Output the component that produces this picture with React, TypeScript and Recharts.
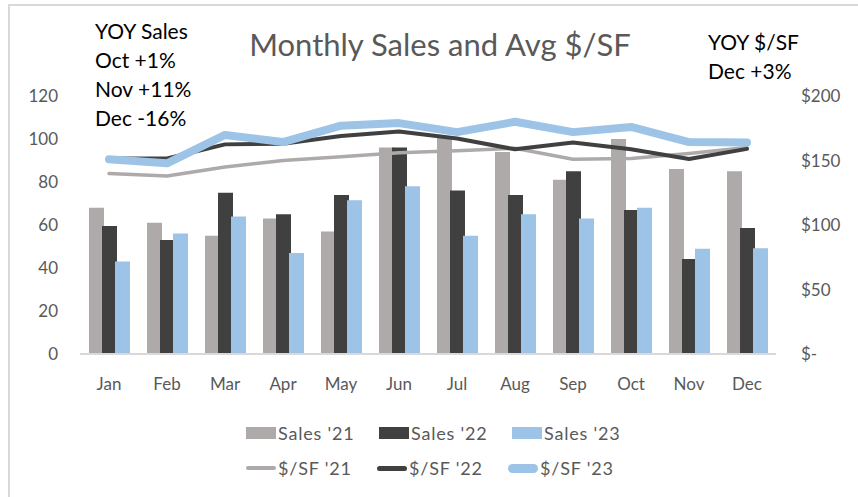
import React from "react";
import {
  ComposedChart,
  Bar,
  Line,
  XAxis,
  YAxis,
  Legend,
} from "recharts";

const months = ["Jan", "Feb", "Mar", "Apr", "May", "Jun", "Jul", "Aug", "Sep", "Oct", "Nov", "Dec"];
const sales21 = [68, 61, 55, 63, 57, 96, 101, 94, 81, 100, 86, 85];
const sales22 = [59.5, 53, 75, 65, 74, 96, 76, 74, 85, 67, 44.2, 58.6];
const sales23 = [43, 56, 64, 47, 71.5, 78, 55, 65, 63, 68, 49, 49.2];
const sf21 = [140, 138, 145, 150, 153, 156, 157.6, 159.5, 151, 151.5, 155.5, 160];
const sf22 = [151.5, 151.5, 162.5, 163, 169, 172.4, 167, 158.7, 164, 158.7, 151.2, 159];
const sf23 = [151, 147.8, 169.8, 164.3, 177, 179, 172, 180, 172, 176, 164.3, 164];
const salesTicks = [0, 20, 40, 60, 80, 100, 120];
const sfTicks = [0, 50, 100, 150, 200];
const yoySales = ["YOY Sales", "Oct +1%", "Nov +11%", "Dec -16%"];
const yoySf = ["YOY $/SF", "Dec +3%"];

const GRAY = "#AEAAAA";
const DARK = "#404040";
const BLUE = "#9DC3E6";
const TEXT = "#595959";
const FONT = "Lato, sans-serif";

const data = months.map((m, i) => ({
  month: m,
  s21: sales21[i],
  s22: sales22[i],
  s23: sales23[i],
  f21: sf21[i],
  f22: sf22[i],
  f23: sf23[i],
}));

const barItems = [
  { label: "Sales '21", color: GRAY },
  { label: "Sales '22", color: DARK },
  { label: "Sales '23", color: BLUE },
];
const lineItems = [
  { label: "$/SF '21", color: GRAY, w: 4 },
  { label: "$/SF '22", color: DARK, w: 5 },
  { label: "$/SF '23", color: BLUE, w: 9 },
];

function ChartLegend() {
  const text: React.CSSProperties = {
    color: TEXT,
    fontSize: 18,
    fontFamily: FONT,
    marginLeft: 2,
    letterSpacing: 0.8,
  };
  return (
    <div style={{ height: 100, position: "relative" }}>
      <div style={{ position: "absolute", top: 38, left: 246, display: "flex" }}>
        {barItems.map((it) => (
          <div key={it.label} style={{ width: 133, display: "flex", alignItems: "center" }}>
            <span style={{ width: 30, height: 12, background: it.color, display: "inline-block" }} />
            <span style={text}>{it.label}</span>
          </div>
        ))}
      </div>
      <div style={{ position: "absolute", top: 73, left: 246, display: "flex" }}>
        {lineItems.map((it) => (
          <div key={it.label} style={{ width: 131, display: "flex", alignItems: "center" }}>
            <span
              style={{
                width: 30,
                height: it.w,
                borderRadius: it.w,
                background: it.color,
                display: "inline-block",
              }}
            />
            <span style={text}>{it.label}</span>
          </div>
        ))}
      </div>
    </div>
  );
}

export default function App() {
  const tick = { fill: TEXT, fontSize: 17, fontFamily: FONT };
  return (
    <div
      style={{
        position: "absolute",
        left: 0,
        top: 0,
        width: 858,
        height: 497,
        overflow: "hidden",
        background: "#fff",
        fontFamily: FONT,
      }}
    >
      <div
        style={{
          position: "absolute",
          left: 8,
          top: 4,
          width: 1000,
          height: 1000,
          border: "2px solid #D9D9D9",
        }}
      />
      <div
        style={{
          position: "absolute",
          left: 0,
          width: 858,
          top: 25,
          textAlign: "center",
          paddingLeft: 22,
          boxSizing: "border-box",
          fontSize: 31,
          color: TEXT,
          lineHeight: "38px",
        }}
      >
        Monthly Sales and Avg $/SF
      </div>
      <div style={{ position: "absolute", left: 95, top: 16, fontSize: 21, lineHeight: "29px", color: "#000" }}>
        {yoySales.map((t) => (
          <div key={t}>{t}</div>
        ))}
      </div>
      <div style={{ position: "absolute", left: 708, top: 27, fontSize: 21, lineHeight: "29px", color: "#000" }}>
        {yoySf.map((t) => (
          <div key={t}>{t}</div>
        ))}
      </div>
      <ComposedChart
        width={858}
        height={497}
        data={data}
        margin={{ top: 96, right: 0, bottom: 13, left: 0 }}
        barGap={-2}
      >
        <XAxis
          dataKey="month"
          tick={tick}
          tickLine={false}
          tickSize={0}
          tickMargin={24}
          axisLine={{ stroke: "#D9D9D9", strokeWidth: 2 }}
          height={30}
          interval={0}
        />
        <YAxis
          yAxisId="left"
          domain={[0, 120]}
          ticks={salesTicks}
          tick={tick}
          tickLine={false}
          tickSize={0}
          tickMargin={22}
          axisLine={false}
          width={80}
        />
        <YAxis
          yAxisId="right"
          orientation="right"
          domain={[0, 200]}
          ticks={sfTicks}
          tick={{ ...tick, textAnchor: "start" }}
          tickLine={false}
          tickSize={0}
          tickMargin={25}
          axisLine={false}
          width={82}
          tickFormatter={(v: number) => (v === 0 ? "$-" : `$${v}`)}
        />
        <Legend verticalAlign="bottom" content={() => <ChartLegend />} />
        <Bar yAxisId="left" dataKey="s21" name="Sales '21" fill={GRAY} barSize={15} isAnimationActive={false} />
        <Bar yAxisId="left" dataKey="s22" name="Sales '22" fill={DARK} barSize={15} isAnimationActive={false} />
        <Bar yAxisId="left" dataKey="s23" name="Sales '23" fill={BLUE} barSize={15} isAnimationActive={false} />
        <Line
          yAxisId="right"
          dataKey="f21"
          name="$/SF '21"
          stroke={GRAY}
          strokeWidth={3.5}
          dot={false}
          strokeLinecap="round"
          strokeLinejoin="round"
          isAnimationActive={false}
        />
        <Line
          yAxisId="right"
          dataKey="f22"
          name="$/SF '22"
          stroke={DARK}
          strokeWidth={4}
          dot={false}
          strokeLinecap="round"
          strokeLinejoin="round"
          isAnimationActive={false}
        />
        <Line
          yAxisId="right"
          dataKey="f23"
          name="$/SF '23"
          stroke={BLUE}
          strokeWidth={8}
          dot={false}
          strokeLinecap="round"
          strokeLinejoin="round"
          isAnimationActive={false}
        />
      </ComposedChart>
    </div>
  );
}
